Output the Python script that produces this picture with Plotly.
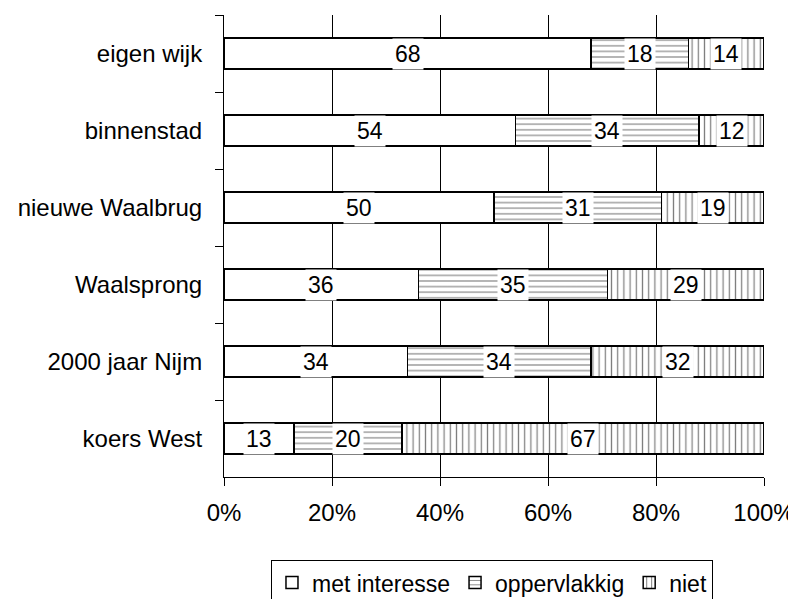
import plotly.graph_objects as go

categories = ["eigen wijk", "binnenstad", "nieuwe Waalbrug", "Waalsprong", "2000 jaar Nijm", "koers West"]
met_interesse = [68, 54, 50, 36, 34, 13]
oppervlakkig = [18, 34, 31, 35, 34, 20]
niet = [14, 12, 19, 29, 32, 67]
series_names = ["met interesse", "oppervlakkig", "niet"]
x_ticks = [0, 20, 40, 60, 80, 100]
x_tick_labels = ["0%", "20%", "40%", "60%", "80%", "100%"]

FONT = "Liberation Sans, Arial, sans-serif"
FS = 24
series = [met_interesse, oppervlakkig, niet]
patterns = [dict(shape=""), dict(shape="-", size=5.6, solidity=0.2, fgcolor="black", bgcolor="white"),
            dict(shape="|", size=6.2, solidity=0.2, fgcolor="black", bgcolor="white")]

fig = go.Figure()
for name, vals, pat in zip(series_names, series, patterns):
    fig.add_trace(go.Bar(
        y=categories, x=vals, name=name, orientation="h",
        marker=dict(color="white", line=dict(color="black", width=1.5), pattern=pat),
        hoverinfo="skip",
    ))

# value labels with white boxes
for i, cat in enumerate(categories):
    start = 0
    for vals in series:
        v = vals[i]
        fig.add_annotation(x=start + v / 2, y=cat, text=str(v), showarrow=False,
                           bgcolor="white", borderpad=2,
                           font=dict(family=FONT, size=23, color="black"))
        start += v

# page body has an 8px margin; margins below compensate for it
fig.update_layout(
    barmode="stack", bargap=0.6,
    width=796, height=599,
    margin=dict(l=216, r=40, t=7, b=130, autoexpand=False),
    paper_bgcolor="white", plot_bgcolor="white",
    font=dict(family=FONT, size=FS, color="black"),
    showlegend=True,
    legend=dict(orientation="h", x=0.087, xanchor="left", y=-0.18, yanchor="top",
                bordercolor="black", borderwidth=1, traceorder="normal",
                font=dict(family=FONT, size=23), itemwidth=30),
    xaxis=dict(range=[0, 100], tickvals=x_ticks, ticktext=x_tick_labels, showgrid=True,
               gridcolor="black", gridwidth=1, zeroline=False, showline=True,
               linecolor="black", linewidth=1, ticks="outside", ticklen=8,
               tickcolor="black", ticklabelstandoff=6, fixedrange=True, automargin=False),
    yaxis=dict(categoryorder="array", categoryarray=categories, autorange="reversed",
               showline=True, linecolor="black", linewidth=1, ticks="outside",
               ticklen=8, tickcolor="black", tickson="boundaries", showgrid=False,
               ticklabelstandoff=16, fixedrange=True, automargin=False),
)

fig.write_html("out.html")
